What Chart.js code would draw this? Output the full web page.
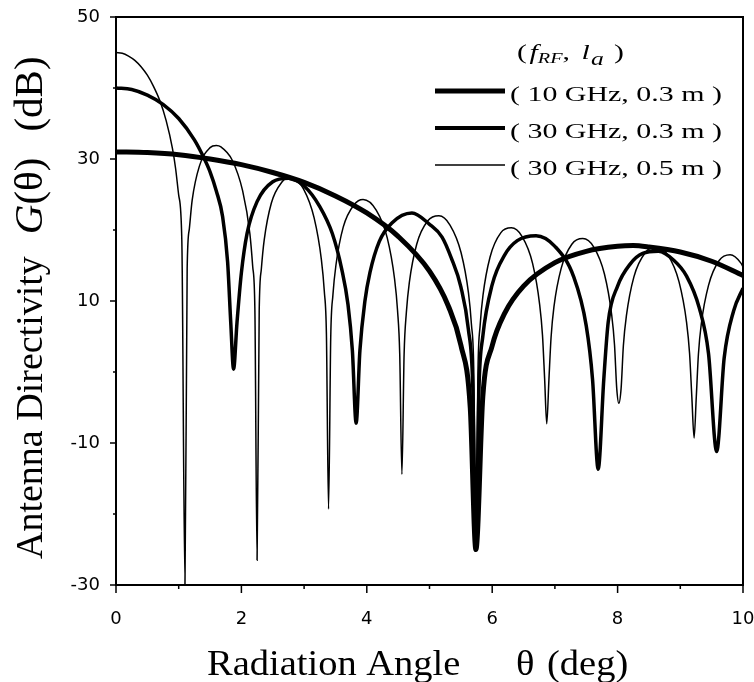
<!DOCTYPE html>
<html>
<head>
<meta charset="utf-8">
<script src="https://cdn.jsdelivr.net/npm/chart.js@4.4.0/dist/chart.umd.min.js"></script>
<style>
  html, body { margin: 0; padding: 0; background: #fff; }
  #wrap { width: 754px; height: 682px; }
</style>
</head>
<body>
<div id="wrap"><canvas id="directivity" width="754" height="682"></canvas></div>
<script>
// angle in degrees, directivity in dB
const angle10g03 = [0, 0.5, 1.0, 1.5, 2.0, 2.5, 3.0, 3.5, 4.0, 4.5, 5.0, 5.3, 5.5, 5.65, 5.74, 5.85, 6.0, 6.2, 6.5, 7.0, 7.5, 8.0, 8.25, 8.5, 9.0, 9.5, 10.0];
const gain10g03 = [31.0, 30.9, 30.6, 30.0, 29.2, 28.1, 26.7, 24.8, 22.4, 19.1, 14.2, 9.3, 3.8, -5.0, -25.0, -3.5, 3.7, 8.3, 12.1, 15.4, 17.0, 17.7, 17.8, 17.6, 16.9, 15.6, 13.6];

const angle30g03 = [0, 0.25, 0.5, 0.75, 1.0, 1.25, 1.4, 1.5, 1.6, 1.7, 1.78, 1.83, 1.875, 1.93, 2.0, 2.09, 2.25, 2.5, 2.75, 3.0, 3.25, 3.45, 3.6, 3.7, 3.77, 3.83, 3.89, 3.97, 4.05, 4.2, 4.4, 4.72, 5.0, 5.2, 5.35, 5.5, 5.62, 5.69, 5.74, 5.79, 5.85, 6.0, 6.2, 6.4, 6.7, 7.0, 7.3, 7.5, 7.6, 7.69, 7.78, 7.85, 8.0, 8.2, 8.4, 8.65, 8.9, 9.1, 9.3, 9.45, 9.58, 9.7, 9.85, 10.0];
const gain30g03 = [40.0, 39.8, 39.0, 37.7, 35.7, 32.7, 30.2, 28.2, 25.5, 21.9, 15.5, 7.0, 0.4, 7.0, 14.0, 19.5, 24.0, 26.8, 27.3, 26.2, 23.3, 19.5, 14.5, 9.5, 3.0, -7.2, 3.0, 10.0, 14.0, 18.4, 21.0, 22.4, 20.8, 19.0, 16.0, 12.0, 6.0, -2.0, -25.0, -2.0, 5.0, 12.3, 16.5, 18.5, 19.2, 17.7, 13.4, 6.5, -1.0, -13.7, -1.0, 7.0, 12.1, 15.2, 16.7, 17.0, 15.7, 13.5, 9.1, 2.6, -11.2, 2.0, 8.6, 11.8];

const angle30g05 = [0, 0.1, 0.2, 0.3, 0.4, 0.5, 0.6, 0.7, 0.8, 0.9, 0.95, 1.0, 1.05, 1.1,
  1.135, 1.17, 1.215, 1.33, 1.5, 1.6, 1.675, 1.85, 2.02, 2.135, 2.18, 2.215, 2.25,
  2.284, 2.318, 2.364, 2.478, 2.65, 2.76, 2.82, 2.99, 3.16, 3.276, 3.322, 3.356, 3.39,
  3.425, 3.46, 3.507, 3.624, 3.8, 3.94, 4.15, 4.326, 4.443, 4.49, 4.525, 4.56,
  4.595, 4.631, 4.678, 4.796, 4.973, 5.15, 5.327, 5.504, 5.622, 5.669, 5.705, 5.74,
  5.774, 5.808, 5.853, 5.966, 6.136, 6.305, 6.475, 6.644, 6.757, 6.802, 6.836, 6.87,
  6.905, 6.939, 6.985, 7.1, 7.27, 7.445, 7.62, 7.79, 7.905, 7.951, 7.986, 8.02,
  8.056, 8.092, 8.14, 8.26, 8.44, 8.62, 8.8, 8.98, 9.1, 9.148, 9.184, 9.22,
  9.255, 9.289, 9.335, 9.45, 9.62, 9.795, 9.97, 10.0];
const gain30g05 = [45.0, 44.9, 44.5, 43.9, 43.0, 41.8, 40.2, 38.2, 35.4, 31.5, 28.7, 24.9, 18.5, -30.0,
  14.5, 20.2, 24.2, 29.0, 31.6, 31.9, 31.7, 29.9, 25.5, 19.5, 14.9, 8.8, -26.5,
  8.6, 14.5, 18.6, 23.8, 26.8, 27.4, 27.3, 25.8, 21.7, 15.8, 11.4, 5.3, -19.3,
  5.0, 10.9, 15.0, 20.4, 23.6, 24.3, 22.8, 18.9, 13.1, 8.7, 2.6, -14.4,
  2.5, 8.4, 12.6, 18.0, 21.3, 22.0, 20.7, 16.8, 11.1, 6.7, 0.7, -25.0,
  0.6, 6.6, 10.8, 16.2, 19.6, 20.3, 19.1, 15.3, 9.5, 5.2, -0.9, -7.3,
  -1.0, 4.9, 9.2, 14.6, 18.0, 18.8, 17.6, 13.8, 8.1, 3.8, -2.3, -4.4,
  -2.3, 3.7, 7.9, 13.4, 16.8, 17.6, 16.5, 12.7, 7.0, 2.6, -3.5, -9.3,
  -3.5, 2.5, 6.8, 12.2, 15.7, 16.5, 15.3, 14.8];

const seriesLabels = ["( 10 GHz, 0.3 m )", "( 30 GHz, 0.3 m )", "( 30 GHz, 0.5 m )"];
const xLabelTicks = [0, 2, 4, 6, 8, 10];
const yLabelTicks = [50, 30, 10, -10, -30];

const toPoints = (xs, ys) => xs.map((v, i) => ({ x: v, y: ys[i] }));

// draws a run of text pieces with mixed fonts, stretched along the run by sx
function drawRun(ctx, parts, x, y, sx, angle) {
  ctx.save();
  ctx.translate(x, y);
  if (angle) ctx.rotate(angle);
  ctx.scale(sx, 1);
  let cx = 0;
  parts.forEach(([text, font, dy, gap]) => {
    cx += gap || 0;
    ctx.font = font;
    ctx.fillText(text, cx, dy || 0);
    cx += ctx.measureText(text).width;
  });
  ctx.restore();
}

const frameAndText = {
  id: "frameAndText",
  afterDraw(chart) {
    const { ctx, chartArea: a, scales } = chart;
    const x = scales.x, y = scales.y;
    ctx.save();
    ctx.strokeStyle = "#000";
    ctx.fillStyle = "#000";

    // box round the plot
    ctx.lineWidth = 2;
    ctx.strokeRect(a.left, a.top, a.right - a.left, a.bottom - a.top);

    // tick marks, long on labelled values
    ctx.lineWidth = 1.5;
    ctx.beginPath();
    x.ticks.forEach((t) => {
      const px = x.getPixelForValue(t.value);
      const len = xLabelTicks.includes(t.value) ? 8 : 4;
      ctx.moveTo(px, a.bottom);
      ctx.lineTo(px, a.bottom + len);
    });
    y.ticks.forEach((t) => {
      const py = y.getPixelForValue(t.value);
      const len = yLabelTicks.includes(t.value) ? 6 : 3;
      ctx.moveTo(a.left, py);
      ctx.lineTo(a.left - len, py);
    });
    ctx.stroke();

    // legend
    const serif = "Liberation Serif";
    ctx.textBaseline = "alphabetic";
    drawRun(ctx, [
      ["(", `22px ${serif}`],
      ["f", `italic 22px ${serif}`, 0, 2],
      ["RF", `italic 15px ${serif}`, 4],
      [", ", `22px ${serif}`],
      ["l", `italic 22px ${serif}`, 0, 3],
      ["a", `italic 19px ${serif}`, 6, 1],
      [" )", `22px ${serif}`, 0, 2],
    ], 517, 59, 1.35);

    const widths = [5, 4, 1.5];
    const rows = [101, 138, 175];
    rows.forEach((by, i) => {
      ctx.lineWidth = widths[i];
      ctx.beginPath();
      ctx.moveTo(435, by - 10);
      ctx.lineTo(505, by - 10);
      ctx.stroke();
      drawRun(ctx, [[seriesLabels[i], `22px ${serif}`]], 510, by, 1.36);
    });

    // x axis title
    drawRun(ctx, [["Radiation Angle", `35px ${serif}`]], 207, 675, 1.1);
    drawRun(ctx, [["\u03b8", `35px ${serif}`]], 516, 675, 1.1);
    drawRun(ctx, [["(deg)", `35px ${serif}`]], 547, 675, 1.1);

    // y axis title, rotated
    drawRun(ctx, [
      ["Antenna Directivity", `38px ${serif}`],
      ["G", `italic 41px ${serif}`, 0, 22],
      ["(\u03b8)", `41px ${serif}`],
      ["(dB)", `41px ${serif}`, 0, 26],
    ], 42, 559, 1, -Math.PI / 2);

    ctx.restore();
  },
};

const lineStyle = { borderColor: "#000", pointRadius: 0, fill: false, cubicInterpolationMode: "monotone" };

new Chart(document.getElementById("directivity").getContext("2d"), {
  type: "line",
  data: {
    datasets: [
      { ...lineStyle, label: seriesLabels[0], data: toPoints(angle10g03, gain10g03), borderWidth: 5 },
      { ...lineStyle, label: seriesLabels[1], data: toPoints(angle30g03, gain30g03), borderWidth: 3.5 },
      { ...lineStyle, label: seriesLabels[2], data: toPoints(angle30g05, gain30g05), borderWidth: 1.5 },
    ],
  },
  options: {
    responsive: false,
    devicePixelRatio: 1,
    animation: false,
    layout: { padding: { top: 17, right: 11, left: 0, bottom: 0 } },
    plugins: { legend: { display: false }, tooltip: { enabled: false } },
    scales: {
      x: {
        type: "linear",
        min: 0,
        max: 10,
        afterFit: (scale) => {
          scale.height = 97;
          scale.paddingLeft = 0;
          scale.paddingRight = 0;
        },
        ticks: {
          stepSize: 1,
          autoSkip: false,
          maxRotation: 0,
          padding: 24,
          color: "#000",
          font: { family: "DejaVu Sans", size: 18 },
          callback: (v) => (xLabelTicks.includes(v) ? String(v) : ""),
        },
        grid: { drawOnChartArea: false, drawTicks: false },
        border: { color: "#000", width: 2 },
      },
      y: {
        type: "linear",
        min: -30,
        max: 50,
        afterFit: (scale) => {
          scale.width = 116;
          scale.paddingTop = 0;
          scale.paddingBottom = 0;
        },
        ticks: {
          stepSize: 10,
          autoSkip: false,
          padding: 16,
          color: "#000",
          font: { family: "DejaVu Sans", size: 18 },
          callback: (v) => (yLabelTicks.includes(v) ? String(v) : ""),
        },
        grid: { drawOnChartArea: false, drawTicks: false },
        border: { color: "#000", width: 2 },
      },
    },
  },
  plugins: [frameAndText],
});
</script>
</body>
</html>
